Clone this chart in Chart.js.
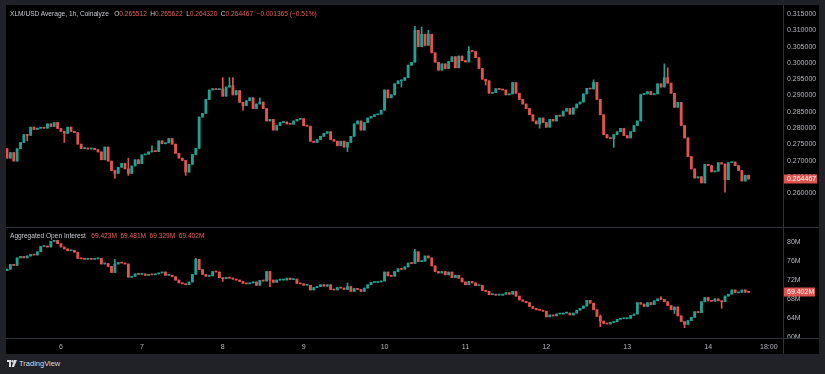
<!DOCTYPE html>
<html lang="en">
<head>
<meta charset="UTF-8">
<title>XLM/USD Average, 1h, Coinalyze</title>
<script src="https://cdn.jsdelivr.net/npm/chart.js"></script>
<style>
  body { margin:0; width:825px; height:374px; background:#202228; position:relative; overflow:hidden;
         font-family:"Liberation Sans", Arial, sans-serif; }
  #frame { position:absolute; left:6px; top:5px; width:813px; height:349px; background:#000; }
  canvas { position:absolute; left:6px; }
  #priceCanvas { top:5px; }
  #oiCanvas { top:228px; }
  #sep { position:absolute; left:6px; top:227px; width:813px; height:1px; background:#30333b; }
  #vsep { position:absolute; left:783px; top:5px; width:1px; height:349px; background:#30333b; }
  #tsep { position:absolute; left:6px; top:338px; width:813px; height:1px; background:#30333b; }
  .t { position:absolute; left:10px; font-size:6.6px; line-height:8px; color:#c9cbd1; white-space:nowrap; }
  .t span { margin-left:3.5px; }
  .t .first { margin-left:0; }
  .t b { font-weight:normal; }
  .r { color:#e5615c; }
  #logo { position:absolute; left:7px; top:359px; font-size:7.5px; color:#d8d9dd; white-space:nowrap; }
  #logo svg { vertical-align:-1px; margin-right:2px; }
</style>
</head>
<body>
<div id="frame"></div>
<canvas id="priceCanvas" width="813" height="222"></canvas>
<div id="sep"></div>
<canvas id="oiCanvas" width="813" height="126"></canvas>
<div id="vsep"></div>
<div id="tsep"></div>

<div class="t" style="top:10px"><span class="first">XLM/USD Average, 1h, Coinalyze</span>
  <span>O<b class="r">0.265512</b></span><span>H<b class="r">0.265622</b></span><span>L<b class="r">0.264320</b></span><span>C<b class="r">0.264467</b></span><span class="r">−0.001365 (−0.51%)</span></div>

<div class="t" style="top:232px"><span class="first">Aggregated Open Interest</span>
  <span class="r">69.423M</span><span class="r">69.481M</span><span class="r">69.329M</span><span class="r">69.402M</span></div>

<div id="logo"><svg width="10" height="7" viewBox="0 0 10 7"><rect x="0" y="0" width="4" height="2" fill="#d8d9dd"/><rect x="2" y="0" width="2" height="7" fill="#d8d9dd"/><circle cx="5.5" cy="1.2" r="1.2" fill="#d8d9dd"/><polygon points="7,0 10,0 7,7 4.6,7" fill="#d8d9dd"/></svg>TradingView</div>

<script>
// hourly candles, hour 0 = day 6 00:00
const startHour = -16;

// XLM/USD price, close of each hourly candle (day 5 08:00 .. day 14 12:00)
const priceFirstOpen = 0.2737;
const priceClose = [
  0.2708, 0.2725, 0.2699, 0.2737, 0.2756, 0.2780, 0.2778, 0.2803, 0.2796, 0.2800, 0.2802, 0.2800, 0.2813, 0.2805, 0.2817, 0.2799,
  0.2790, 0.2784, 0.2803, 0.2790, 0.2786, 0.2751, 0.2737, 0.2739, 0.2736, 0.2738, 0.2734, 0.2727, 0.2703, 0.2742, 0.2699, 0.2670, 0.2661, 0.2680, 0.2692, 0.2675, 0.2661, 0.2684, 0.2703, 0.2691,
  0.2718, 0.2720, 0.2727, 0.2730, 0.2728, 0.2761, 0.2752, 0.2755, 0.2768, 0.2751, 0.2723, 0.2708, 0.2701, 0.2665, 0.2689, 0.2719, 0.2738, 0.2834, 0.2845, 0.2888, 0.2917, 0.2921, 0.2918, 0.2920,
  0.2898, 0.2926, 0.2930, 0.2902, 0.2915, 0.2879, 0.2869, 0.2884, 0.2893, 0.2860, 0.2874, 0.2880, 0.2860, 0.2822, 0.2827, 0.2794, 0.2808, 0.2817, 0.2819, 0.2813, 0.2812, 0.2822, 0.2827, 0.2829,
  0.2808, 0.2806, 0.2760, 0.2756, 0.2765, 0.2775, 0.2784, 0.2789, 0.2765, 0.2760, 0.2746, 0.2760, 0.2742, 0.2756, 0.2775, 0.2813, 0.2822, 0.2794, 0.2817, 0.2831, 0.2836, 0.2841, 0.2843, 0.2855,
  0.2917, 0.2893, 0.2902, 0.2936, 0.2945, 0.2947, 0.2955, 0.2993, 0.3002, 0.3100, 0.3050, 0.3088, 0.3054, 0.3088, 0.3031, 0.3002, 0.2978, 0.2997, 0.2983, 0.3004, 0.3019, 0.2985, 0.3021, 0.3007,
  0.3003, 0.3036, 0.3035, 0.3016, 0.2983, 0.2950, 0.2945, 0.2907, 0.2909, 0.2921, 0.2919, 0.2917, 0.2902, 0.2905, 0.2940, 0.2907, 0.2888, 0.2874, 0.2860, 0.2841, 0.2822, 0.2813, 0.2831, 0.2817,
  0.2803, 0.2827, 0.2822, 0.2839, 0.2837, 0.2852, 0.2860, 0.2843, 0.2862, 0.2874, 0.2880, 0.2905, 0.2922, 0.2920, 0.2940, 0.2888, 0.2841, 0.2780, 0.2770, 0.2768, 0.2780, 0.2789, 0.2799, 0.2777,
  0.2770, 0.2789, 0.2808, 0.2822, 0.2903, 0.2905, 0.2912, 0.2903, 0.2905, 0.2936, 0.2926, 0.2955, 0.2938, 0.2907, 0.2864, 0.2879, 0.2808, 0.2770, 0.2713, 0.2675, 0.2647, 0.2651, 0.2632, 0.2689,
  0.2685, 0.2666, 0.2668, 0.2694, 0.2690, 0.2642, 0.2694, 0.2696, 0.2685, 0.2670, 0.2638, 0.265512, 0.264467
];
// visible wicks [hour, value]
const priceHighs = [[20, 0.2708], [27, 0.2746], [48, 0.2955], [50, 0.2955], [51, 0.2955], [59, 0.2893],
  [105, 0.3112], [107, 0.3110], [109, 0.3100], [121, 0.3050], [158, 0.2948], [179, 0.2997], [180, 0.2985], [204, 0.265622]];
const priceLows = [[-10, 0.2761], [1, 0.2756], [16, 0.2646], [20, 0.2655], [37, 0.2655], [54, 0.2855], [85, 0.2728],
  [101, 0.2926], [126, 0.2932], [142, 0.2800], [164, 0.2741], [197, 0.2604], [204, 0.264320]];
const priceTicks = [0.26, 0.265, 0.27, 0.275, 0.28, 0.285, 0.29, 0.295, 0.3, 0.305, 0.31, 0.315];

// aggregated open interest (millions), close of each hourly candle
const oiFirstOpen = 74.0;
const oiClose = [
  74.3, 75.3, 75.1, 76.7, 77.0, 76.7, 77.1, 77.4, 77.3, 78.0, 79.1, 79.2, 79.0, 80.2, 80.4, 79.7,
  79.0, 78.6, 78.2, 78.3, 77.9, 76.6, 76.5, 76.4, 76.5, 76.4, 76.5, 76.6, 75.4, 75.5, 74.9, 73.6, 75.4, 75.7, 75.6, 75.4, 72.6, 72.8, 73.3, 73.2,
  73.3, 73.0, 73.2, 73.1, 73.3, 73.5, 73.7, 73.0, 73.0, 72.7, 72.0, 71.4, 71.2, 71.0, 71.6, 73.2, 76.4, 74.2, 73.2, 72.8, 72.9, 73.8, 73.7, 72.5,
  72.3, 72.6, 72.4, 72.2, 72.0, 71.7, 71.3, 71.2, 71.4, 71.6, 70.9, 71.9, 71.8, 73.8, 72.0, 71.5, 72.0, 72.0, 72.0, 72.4, 72.1, 72.2, 71.3, 71.2,
  70.9, 70.9, 69.9, 70.4, 70.6, 71.0, 70.7, 71.0, 70.0, 69.9, 70.4, 70.3, 70.0, 70.6, 69.6, 70.2, 70.0, 69.6, 70.3, 71.0, 71.5, 71.5, 71.6, 71.8,
  73.7, 72.9, 72.8, 73.8, 74.4, 74.3, 74.8, 75.6, 75.5, 78.0, 75.9, 76.0, 77.1, 76.7, 75.0, 73.8, 73.5, 73.8, 73.1, 73.7, 72.5, 73.0, 72.4, 71.6,
  71.0, 71.7, 71.4, 70.8, 70.9, 69.8, 69.6, 68.9, 68.9, 68.8, 68.8, 69.0, 69.3, 69.0, 69.6, 68.6, 67.8, 67.5, 67.2, 66.4, 66.0, 65.7, 65.6, 65.4,
  64.2, 64.6, 64.4, 64.8, 64.8, 65.0, 65.0, 64.6, 65.0, 65.6, 66.0, 66.5, 67.7, 67.1, 65.7, 64.3, 63.3, 62.8, 62.7, 63.0, 63.2, 63.7, 63.8, 63.8,
  63.9, 64.5, 64.8, 67.2, 66.9, 66.4, 67.2, 66.8, 67.6, 68.0, 67.9, 67.4, 66.6, 65.7, 66.3, 64.4, 63.2, 62.6, 63.4, 64.1, 65.3, 65.1, 67.4, 68.3,
  67.6, 67.5, 68.0, 67.6, 67.4, 68.6, 69.0, 69.9, 69.3, 69.4, 69.9, 69.423, 69.402
];
const oiHighs = [[16, 76.4], [40, 76.6], [85, 71.4], [105, 78.5], [160, 64.6], [178, 68.5], [204, 69.481]];
const oiLows = [[48, 71.7], [62, 70.6], [160, 62.1], [182, 64.9], [185, 61.9], [196, 66.0], [204, 69.329]];
const oiTicks = [60, 64, 68, 72, 76, 80];

// time axis
const timeTicks = [0, 24, 48, 72, 96, 120, 144, 168, 192, 210];
const timeLabels = ['6', '7', '8', '9', '10', '11', '12', '13', '14', '18:00'];

const UP = '#22a092';
const DOWN = '#e0534f';
const AXIS_TEXT = '#b2b5be';
const FONT = { family: '"Liberation Sans", Arial, sans-serif', size: 7 };

function buildCandles(firstOpen, closes, highs, lows) {
    const hi = new Map(highs), lo = new Map(lows);
    const bodies = [], wicks = [], colors = [];
    let open = firstOpen;
    closes.forEach((c, i) => {
        const k = startHour + i;
        bodies.push({ x: k, y: [open, c] });
        wicks.push({ x: k, y: [lo.has(k) ? lo.get(k) : Math.min(open, c), hi.has(k) ? hi.get(k) : Math.max(open, c)] });
        colors.push(c >= open ? UP : DOWN);
        open = c;
    });
    return { bodies, wicks, colors };
}

// red box with the last value on the price scale
const lastLabel = {
    id: 'lastLabel',
    afterDraw(chart, args, opts) {
        const ctx = chart.ctx;
        const y = Math.round(chart.scales.y.getPixelForValue(opts.value));
        const x = chart.chartArea.right + 1;
        ctx.save();
        ctx.fillStyle = DOWN;
        ctx.fillRect(x, y - 4.5, opts.w, 9);
        ctx.fillStyle = '#ffffff';
        ctx.font = '7px "Liberation Sans", Arial, sans-serif';
        ctx.textBaseline = 'middle';
        ctx.fillText(opts.text, x + 3, y + 0.5);
        ctx.restore();
    }
};

// no extra padding for edge labels, so the panes keep their full height
function noPad(s) {
    s.paddingTop = 0; s.paddingBottom = 0; s.paddingLeft = 0; s.paddingRight = 0;
}

function makeChart(id, candles, yOpts, showTime, label) {
    const xScale = {
        type: 'linear', min: -16.3, max: 214.2, offset: false,
        display: showTime,
        grid: { display: false, drawTicks: false },
        border: { display: false },
        afterFit: s => { s.height = 16; noPad(s); },
        afterBuildTicks: s => { s.ticks = timeTicks.map(v => ({ value: v })); },
        ticks: {
            color: AXIS_TEXT, font: FONT, padding: 5, autoSkip: false, maxRotation: 0,
            callback: v => timeLabels[timeTicks.indexOf(v)]
        }
    };
    return new Chart(document.getElementById(id), {
        type: 'bar',
        data: {
            datasets: [
                { data: candles.wicks, backgroundColor: candles.colors, barThickness: 1, grouped: false, order: 2 },
                { data: candles.bodies, backgroundColor: candles.colors, barThickness: 2.2, minBarLength: 1, grouped: false, order: 1 }
            ]
        },
        options: {
            responsive: false,
            animation: false,
            layout: { padding: 0 },
            scales: {
                x: xScale,
                y: Object.assign({
                    position: 'right',
                    grid: { display: false, drawTicks: false },
                    border: { display: false },
                    afterFit: s => { s.width = 36; noPad(s); }
                }, yOpts)
            },
            plugins: { legend: { display: false }, tooltip: { enabled: false }, lastLabel: label }
        },
        plugins: [lastLabel]
    });
}

makeChart('priceCanvas', buildCandles(priceFirstOpen, priceClose, priceHighs, priceLows), {
    min: 0.25459, max: 0.31776,
    afterBuildTicks: s => { s.ticks = priceTicks.map(v => ({ value: v })); },
    ticks: { color: AXIS_TEXT, font: FONT, padding: 4, callback: v => v.toFixed(6) }
}, false, { value: 0.264467, text: '0.264467', w: 33 });

makeChart('oiCanvas', buildCandles(oiFirstOpen, oiClose, oiHighs, oiLows), {
    min: 59.72, max: 83.03,
    afterBuildTicks: s => { s.ticks = oiTicks.map(v => ({ value: v })); },
    ticks: { color: AXIS_TEXT, font: FONT, padding: 4, callback: v => v + 'M' }
}, true, { value: 69.402, text: '69.402M', w: 31 });
</script>
</body>
</html>
